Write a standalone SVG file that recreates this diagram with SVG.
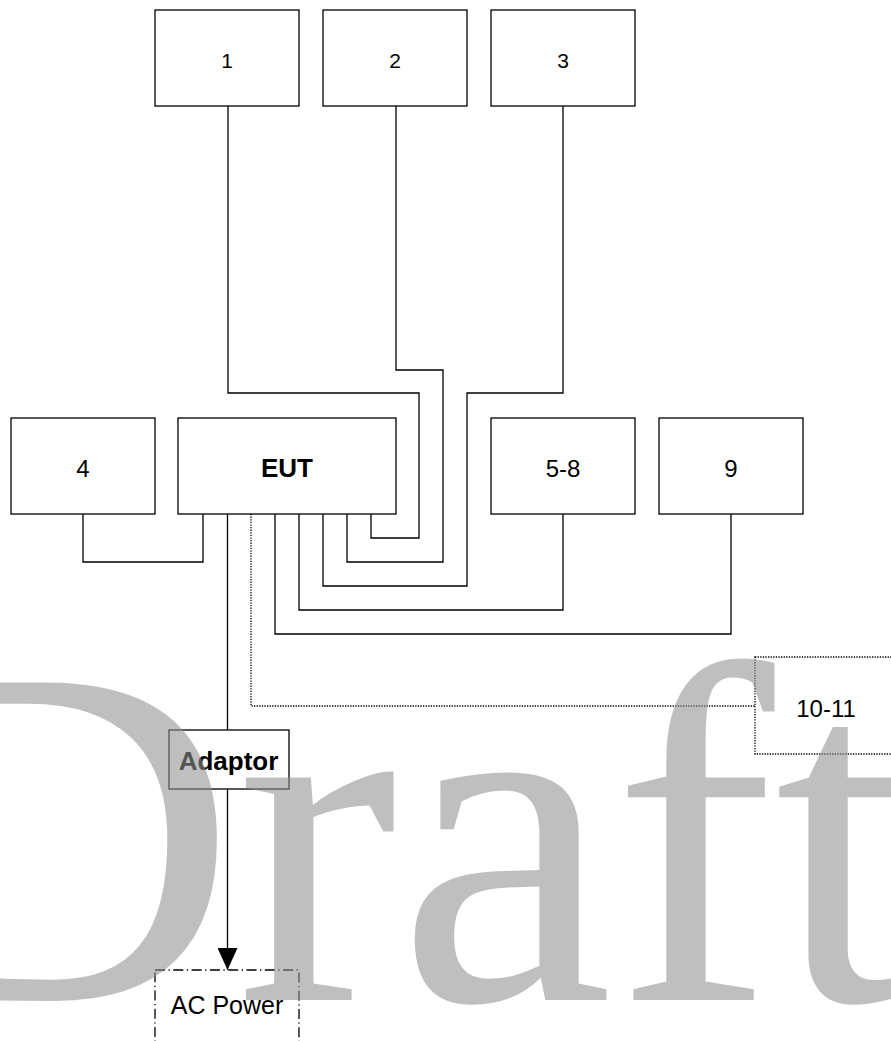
<svg xmlns="http://www.w3.org/2000/svg" width="891" height="1041" viewBox="0 0 891 1041">
<defs>
<style>
.box{fill:#fff;stroke:#000;stroke-width:1.3}
.lbl{font-family:"Liberation Sans",Arial,sans-serif;fill:#000;text-anchor:middle}
.b{font-weight:bold}
.wire{fill:none;stroke:#000;stroke-width:1.3}
.dot{fill:none;stroke:#000;stroke-width:1.3;stroke-dasharray:1.3 1.3}
.dashdot{fill:none;stroke:#000;stroke-width:1.3;stroke-dasharray:10 3.5 1.3 3.5}
.wm{font-family:"Liberation Serif","Times New Roman",serif;fill:#919191;fill-opacity:0.58}
</style>
<marker id="arr" viewBox="0 0 22 20" refX="22" refY="10" markerWidth="22" markerHeight="20" markerUnits="userSpaceOnUse" orient="auto">
<path d="M0,0 L22,10 L0,20 Z" fill="#000"/>
</marker>
</defs>
<rect width="891" height="1041" fill="#fff"/>
<g id="connectors">
<path class="wire" d="M228,106 V393 H419 V538 H371 V514"/>
<path class="wire" d="M396,106 V370 H443 V562 H347 V514"/>
<path class="wire" d="M563,106 V393 H467 V586 H323 V514"/>
<path class="wire" d="M83,514 V562 H203 V514"/>
<path class="wire" d="M563,514 V610 H299 V514"/>
<path class="wire" d="M731,514 V634 H275 V514"/>
<path class="dot" d="M251,514 V706 H755"/>
<path class="wire" d="M227.5,514 V730"/>
<path class="wire" d="M227.5,789 V970" marker-end="url(#arr)"/>
</g>
<g id="node-1"><rect class="box" x="155" y="10" width="144" height="96"/><text class="lbl" x="227" y="68" font-size="21">1</text></g>
<g id="node-2"><rect class="box" x="323" y="10" width="144" height="96"/><text class="lbl" x="395" y="68" font-size="21">2</text></g>
<g id="node-3"><rect class="box" x="491" y="10" width="144" height="96"/><text class="lbl" x="563" y="68" font-size="21">3</text></g>
<g id="node-4"><rect class="box" x="11" y="418" width="144" height="96"/><text class="lbl" x="83" y="477" font-size="24">4</text></g>
<g id="node-eut"><rect class="box" x="178" y="418" width="218" height="96"/><text class="lbl b" x="287" y="477" font-size="26">EUT</text></g>
<g id="node-5-8"><rect class="box" x="491" y="418" width="144" height="96"/><text class="lbl" x="563" y="477" font-size="24">5-8</text></g>
<g id="node-9"><rect class="box" x="659" y="418" width="144" height="96"/><text class="lbl" x="731" y="477" font-size="24">9</text></g>
<g id="node-10-11"><rect class="dot" x="755" y="657" width="200" height="97"/><text class="lbl" x="826" y="717" font-size="24">10-11</text></g>
<g id="node-adaptor"><rect class="box" x="169" y="730" width="120" height="59"/><text class="lbl b" x="228.5" y="770" font-size="26">Adaptor</text></g>
<g id="node-ac-power"><rect class="dashdot" x="155" y="970" width="144" height="100"/><text class="lbl" x="227" y="1014" font-size="25">AC Power</text></g>
<text class="wm" x="-114" y="1000" font-size="485">Draft</text>
</svg>
